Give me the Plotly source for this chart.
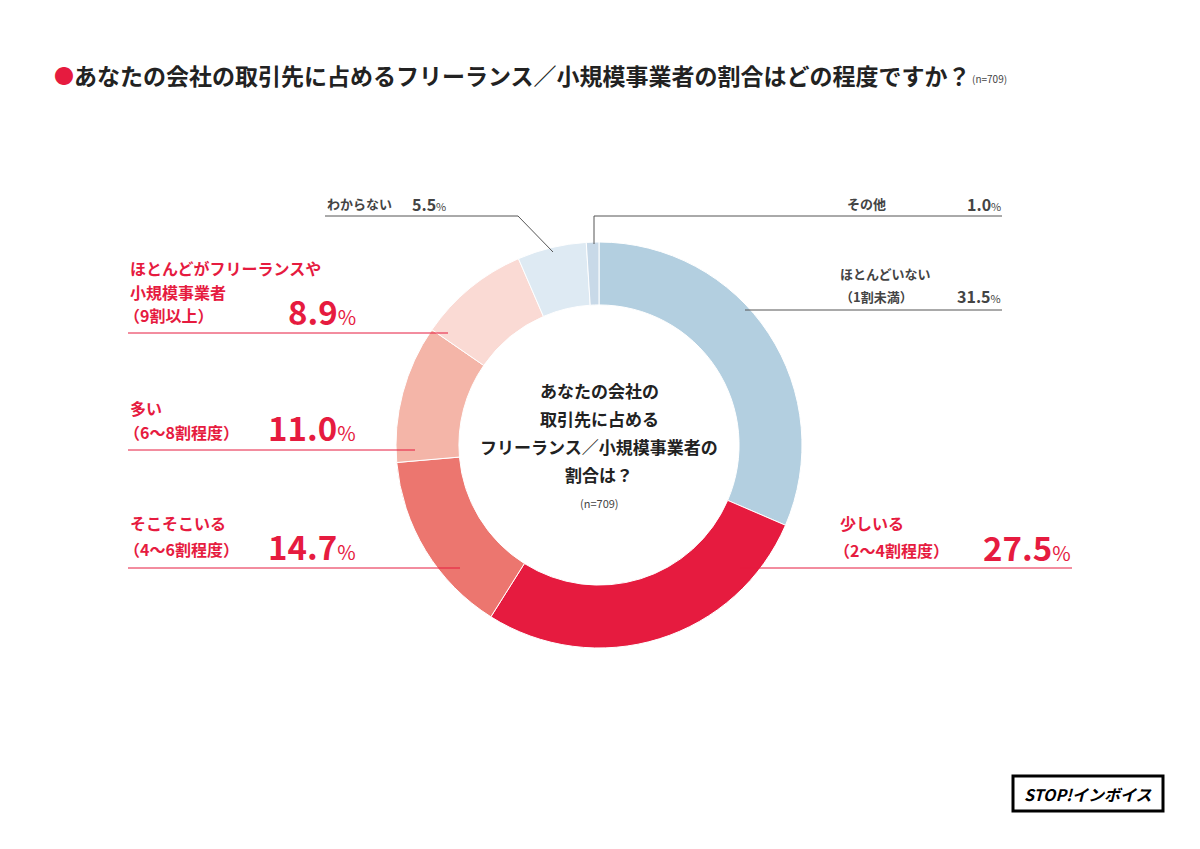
import plotly.graph_objects as go

labels = ["ほとんどいない（1割未満）", "少しいる（2〜4割程度）", "そこそこいる（4〜6割程度）",
          "多い（6〜8割程度）", "ほとんどがフリーランスや小規模事業者（9割以上）", "わからない", "その他"]
values = [31.5, 27.5, 14.7, 11.0, 8.9, 5.5, 1.0]
colors = ["#b3cfe0", "#e61b3f", "#ec766f", "#f4b5a8", "#fadad4", "#deeaf3", "#c8d9e8"]

W, H = 1200, 849
FONT = "Noto Sans CJK JP"
RED = "#e61b3f"
GRAY = "#444444"
OFF = 8

def px(x): return (x - OFF) / W
def py(y): return 1 - (y - OFF) / H

fig = go.Figure(go.Pie(
    values=values, labels=labels, sort=False, direction="clockwise", rotation=0,
    hole=0.69, marker=dict(colors=colors, line=dict(color="white", width=1)),
    textinfo="none", hoverinfo="label+percent",
    domain=dict(x=[px(599-203), px(599+203)], y=[py(445+203), py(445-203)]),
))

shapes = []
def seg(pts, color):
    for (x0, y0), (x1, y1) in zip(pts[:-1], pts[1:]):
        shapes.append(dict(type="line", xref="paper", yref="paper",
                           x0=px(x0), y0=py(y0), x1=px(x1), y1=py(y1),
                           line=dict(color=color, width=1)))

seg([(1002, 216), (594, 216), (594, 244)], "#555")
seg([(1002, 310), (745, 310)], "#555")
seg([(325, 216), (518, 216), (553, 252)], "#555")
seg([(1072, 568), (740, 568)], RED)
seg([(128, 333), (448, 333)], RED)
seg([(128, 450), (415, 450)], RED)
seg([(128, 568), (460, 568)], RED)

shapes.append(dict(type="rect", xref="paper", yref="paper", x0=px(1013), x1=px(1163),
                   y0=py(811), y1=py(776), line=dict(color="black", width=3)))

ann = []
def t(x, y, text, size, color, bold=True, anchor="left"):
    if bold: text = "<b>" + text + "</b>"
    ann.append(dict(xref="paper", yref="paper", x=px(x), y=py(y), text=text, showarrow=False,
                    xanchor=anchor, yanchor="middle", font=dict(family=FONT, size=size, color=color)))

def pct(v, size, psize):
    return f"<b>{v}</b><span style='font-size:{psize}px'>%</span>"

t(52, 75, "●", 20, RED, bold=False)
t(72, 75, "あなたの会社の取引先に占めるフリーランス／小規模事業者の割合はどの程度ですか？", 23, "#222")
t(970, 78, "(n=709)", 10, "#444", bold=False)

t(845, 204, "その他", 13, GRAY)
t(1003, 204, pct("1.0", 15, 11), 16, GRAY, bold=False, anchor="right")
t(838, 273, "ほとんどいない", 13, GRAY)
t(838, 296, "（1割未満）", 13, GRAY)
t(1003, 296, pct("31.5", 16, 11), 16, GRAY, bold=False, anchor="right")
t(838, 523, "少しいる", 16, RED)
t(832, 550, "（2〜4割程度）", 16, RED)
t(1073, 547, pct("27.5", 33, 20), 33, RED, bold=False, anchor="right")

t(325, 204, "わからない", 13, GRAY)
t(448, 204, pct("5.5", 16, 11), 16, GRAY, bold=False, anchor="right")
t(128, 268, "ほとんどがフリーランスや", 16, RED)
t(128, 292, "小規模事業者", 16, RED)
t(122, 315, "（9割以上）", 16, RED)
t(358, 311, pct("8.9", 33, 20), 33, RED, bold=False, anchor="right")
t(128, 408, "多い", 16, RED)
t(122, 432, "（6〜8割程度）", 16, RED)
t(358, 427, pct("11.0", 33, 20), 33, RED, bold=False, anchor="right")
t(128, 523, "そこそこいる", 16, RED)
t(122, 549, "（4〜6割程度）", 16, RED)
t(358, 546, pct("14.7", 33, 20), 33, RED, bold=False, anchor="right")

for y, s in [(390, "あなたの会社の"), (418, "取引先に占める"), (446, "フリーランス／小規模事業者の"), (474, "割合は？")]:
    t(599, y, s, 17, "#222", anchor="center")
t(599, 503, "(n=709)", 11, "#444", bold=False, anchor="center")

t(1088, 794, "<i>STOP!インボイス</i>", 16, "black", anchor="center")

fig.update_layout(width=W, height=H, margin=dict(l=0, r=0, t=0, b=0), showlegend=False,
                  paper_bgcolor="white", plot_bgcolor="white", shapes=shapes, annotations=ann,
                  font=dict(family=FONT))
fig.write_html("out.html")
